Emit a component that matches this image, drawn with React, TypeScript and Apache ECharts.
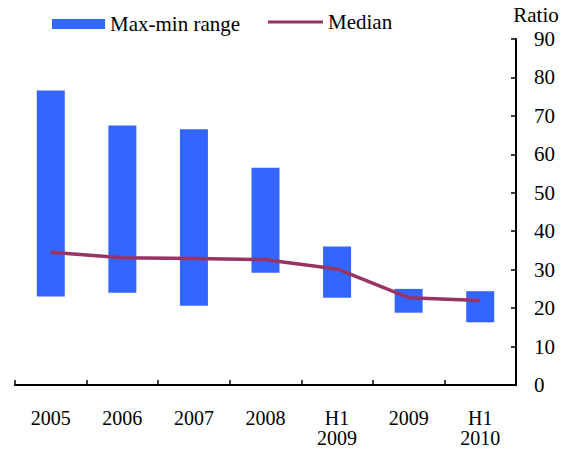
import React, { useEffect, useRef } from "react";
import * as echarts from "echarts";

const categories = ["2005", "2006", "2007", "2008", "H1\n2009", "2009", "H1\n2010"];
const minValues = [23.0, 24.0, 20.6, 29.2, 22.7, 18.8, 16.3];
const maxValues = [76.6, 67.5, 66.5, 56.5, 36.0, 25.0, 24.4];
const medianValues = [34.5, 33.1, 32.9, 32.6, 30.2, 22.7, 22.0];

const FONT = "Liberation Serif";
const TXT = { fontFamily: FONT, fontSize: 21, lineHeight: 22, color: "#000" };

export default function App() {
  const ref = useRef<HTMLDivElement>(null);
  useEffect(() => {
    if (!ref.current) return;
    const chart = echarts.init(ref.current, null, { renderer: "svg" });
    const range = maxValues.map((v, i) => +(v - minValues[i]).toFixed(2));
    chart.setOption({
      animation: false,
      textStyle: { fontFamily: FONT, color: "#000" },
      legend: [
        {
          data: [{ name: "Max-min range", icon: "rect" }],
          left: 47,
          top: 8,
          itemWidth: 53,
          itemHeight: 10,
          textStyle: TXT,
          selectedMode: false,
        },
        {
          data: [{ name: "Median", icon: "path://M0,0L55,0L55,3L0,3Z" }],
          left: 263,
          top: 6,
          itemWidth: 55,
          itemHeight: 11,
          textStyle: TXT,
          selectedMode: false,
        },
      ],
      grid: { left: 15, right: 47, top: 39, bottom: 64, containLabel: false, outerBoundsMode: "none" },
      xAxis: {
        type: "category",
        data: categories,
        axisLine: { lineStyle: { color: "#000", width: 2 } },
        axisTick: { show: true, inside: true, length: 5, lineStyle: { color: "#000", width: 1.5 } },
        axisLabel: { ...TXT, fontSize: 20, margin: 23, lineHeight: 20 },
        splitLine: { show: false },
      },
      yAxis: {
        type: "value",
        position: "right",
        min: 0,
        max: 90,
        interval: 10,
        name: "Ratio",
        nameGap: 13,
        nameTextStyle: { ...TXT, align: "center", padding: [0, 0, 0, 40] },
        axisLine: { show: true, lineStyle: { color: "#000", width: 2 } },
        axisTick: { show: true, inside: true, length: 5, lineStyle: { color: "#000", width: 1.5 } },
        axisLabel: { ...TXT, margin: 18 },
        splitLine: { show: false },
      },
      series: [
        {
          name: "base",
          type: "bar",
          stack: "r",
          data: minValues,
          barWidth: 28,
          itemStyle: { color: "transparent" },
          emphasis: { disabled: true },
        },
        {
          name: "Max-min range",
          type: "bar",
          stack: "r",
          data: range,
          barWidth: 28,
          itemStyle: { color: "#3366FF" },
        },
        {
          name: "Median",
          type: "line",
          data: medianValues,
          symbol: "none",
          lineStyle: { color: "#993366", width: 3.5 },
          itemStyle: { color: "#993366" },
          z: 5,
        },
      ],
    });
    return () => chart.dispose();
  }, []);
  return (
    <div
      ref={ref}
      style={{ position: "absolute", left: 0, top: 0, width: 563, height: 449 }}
    />
  );
}
